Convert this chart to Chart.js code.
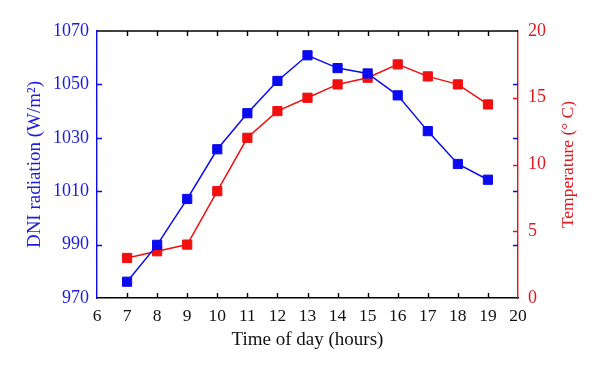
<!DOCTYPE html>
<html><head><meta charset="utf-8">
<script src="https://cdn.jsdelivr.net/npm/chart.js@4"></script>
<style>html,body{margin:0;padding:0;background:#fff;}</style>
</head><body>
<canvas id="c" width="600" height="373"></canvas>
<script>
const hours = [7, 8, 9, 10, 11, 12, 13, 14, 15, 16, 17, 18, 19];
const dniValues = [976.1, 989.9, 1007.1, 1025.7, 1039.2, 1051.3, 1060.9, 1056.1, 1054.1, 1045.9, 1032.5, 1020.2, 1014.3];
const temperatureValues = [3.0, 3.5, 4.0, 8.0, 12.0, 14.0, 15.0, 16.0, 16.5, 17.5, 16.6, 16.0, 14.5];
const hourTicks = [6, 7, 8, 9, 10, 11, 12, 13, 14, 15, 16, 17, 18, 19, 20];
const dniTicks = [970, 990, 1010, 1030, 1050, 1070];
const tempTicks = [0, 5, 10, 15, 20];

const BLUE = '#0a0af0';
const RED = '#f01010';
const BLUE_TXT = '#1c1ce0';
const RED_TXT = '#e01820';
const FONT = '"Liberation Serif", "DejaVu Serif", serif';

const tickPlugin = {
  id: 'inwardTicks',
  afterDatasetsDraw(chart) {
    const { ctx, chartArea: a, scales } = chart;
    const x = scales.x, y = scales.y, y1 = scales.y1;
    const L = 5;
    ctx.save();
    ctx.lineWidth = 1.4;
    ctx.strokeStyle = '#000';
    ctx.beginPath();
    ctx.moveTo(a.left, a.top); ctx.lineTo(a.right, a.top);
    ctx.stroke();
    ctx.beginPath();
    x.ticks.forEach(t => {
      if (t.value <= x.min || t.value >= x.max) return;
      const px = Math.round(x.getPixelForValue(t.value)) + 0.5;
      ctx.moveTo(px, a.bottom); ctx.lineTo(px, a.bottom - L);
      ctx.moveTo(px, a.top); ctx.lineTo(px, a.top + L);
    });
    ctx.stroke();
    ctx.strokeStyle = BLUE;
    ctx.beginPath();
    y.ticks.forEach(t => {
      if (t.value <= y.min || t.value >= y.max) return;
      const py = Math.round(y.getPixelForValue(t.value)) + 0.5;
      ctx.moveTo(a.left, py); ctx.lineTo(a.left + L, py);
      ctx.moveTo(a.right, py); ctx.lineTo(a.right - L, py);
    });
    ctx.stroke();
    ctx.strokeStyle = RED;
    ctx.beginPath();
    y1.ticks.forEach(t => {
      if (t.value <= y1.min || t.value >= y1.max) return;
      const py = Math.round(y1.getPixelForValue(t.value)) + 0.5;
      ctx.moveTo(a.right, py); ctx.lineTo(a.right - L, py);
    });
    ctx.stroke();
    ctx.restore();
  },
  afterDraw(chart) {
    const { ctx, chartArea: a } = chart;
    ctx.save();
    ctx.translate(568, (a.top + a.bottom) / 2);
    ctx.rotate(-Math.PI / 2);
    ctx.fillStyle = RED_TXT;
    ctx.font = '17.5px ' + FONT;
    ctx.textAlign = 'center';
    ctx.textBaseline = 'middle';
    ctx.fillText('Temperature (° C)', 0, 0);
    ctx.restore();
  }
};

const plain = v => String(v);

new Chart(document.getElementById('c'), {
  type: 'line',
  data: {
    datasets: [
      {
        label: 'DNI radiation',
        data: hours.map((h, i) => ({ x: h, y: dniValues[i] })),
        yAxisID: 'y',
        borderColor: BLUE,
        backgroundColor: BLUE,
        borderWidth: 1.5,
        pointStyle: 'rect',
        pointRadius: 6.5,
        pointBorderWidth: 1,
        pointBorderColor: BLUE,
        pointBackgroundColor: BLUE,
        tension: 0
      },
      {
        label: 'Temperature',
        data: hours.map((h, i) => ({ x: h, y: temperatureValues[i] })),
        yAxisID: 'y1',
        borderColor: RED,
        backgroundColor: RED,
        borderWidth: 1.5,
        pointStyle: 'rect',
        pointRadius: 6.5,
        pointBorderWidth: 1,
        pointBorderColor: RED,
        pointBackgroundColor: RED,
        tension: 0
      }
    ]
  },
  options: {
    responsive: false,
    devicePixelRatio: 1,
    animation: false,
    layout: { padding: { top: 31, left: 0, right: 0, bottom: 0 } },
    plugins: { legend: { display: false }, tooltip: { enabled: false } },
    scales: {
      x: {
        type: 'linear',
        min: hourTicks[0],
        max: hourTicks[hourTicks.length - 1],
        afterBuildTicks: s => { s.ticks = hourTicks.map(v => ({ value: v })); },
        afterFit: s => { s.height = 75; },
        grid: { display: true, drawOnChartArea: false, drawTicks: false },
        border: { display: true, color: '#000', width: 1.4 },
        ticks: { color: '#111', font: { family: FONT, size: 17.5 }, padding: 8, maxRotation: 0, autoSkip: false, callback: plain },
        title: { display: true, text: 'Time of day (hours)', color: '#111', font: { family: FONT, size: 19 }, padding: { top: 0, bottom: 22 } }
      },
      y: {
        type: 'linear',
        position: 'left',
        min: dniTicks[0],
        max: dniTicks[dniTicks.length - 1],
        afterBuildTicks: s => { s.ticks = dniTicks.map(v => ({ value: v })); },
        afterFit: s => { s.width = 97; },
        grid: { display: true, drawOnChartArea: false, drawTicks: false },
        border: { display: true, color: BLUE, width: 1.4 },
        ticks: { color: BLUE_TXT, font: { family: FONT, size: 18 }, padding: 8, callback: plain },
        title: { display: true, text: 'DNI radiation (W/m²)', color: BLUE_TXT, font: { family: FONT, size: 19 }, padding: { top: 24, bottom: 0 } }
      },
      y1: {
        type: 'linear',
        position: 'right',
        min: tempTicks[0],
        max: tempTicks[tempTicks.length - 1],
        afterBuildTicks: s => { s.ticks = tempTicks.map(v => ({ value: v })); },
        afterFit: s => { s.width = 82; },
        grid: { display: true, drawOnChartArea: false, drawTicks: false },
        border: { display: true, color: RED, width: 1.4 },
        ticks: { color: RED_TXT, font: { family: FONT, size: 18 }, padding: 10, callback: plain },
        title: { display: false }
      }
    }
  },
  plugins: [tickPlugin]
});
</script>
</body></html>
